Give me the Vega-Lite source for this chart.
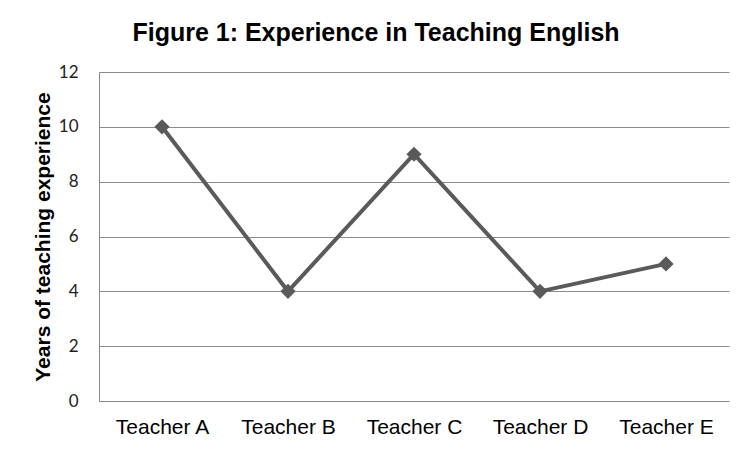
{
  "$schema": "https://vega.github.io/schema/vega-lite/v6.json",
  "width": 630,
  "height": 329,
  "autosize": {"type": "none"},
  "padding": {"left": 99, "top": 72, "right": 24, "bottom": 50},
  "background": "white",
  "title": {
    "text": "Figure 1: Experience in Teaching English",
    "font": "Liberation Sans",
    "fontSize": 25,
    "fontWeight": "bold",
    "color": "black",
    "anchor": "middle",
    "dx": -38,
    "offset": 17
  },
  "data": {
    "values": [
      {"teacher": "Teacher A", "years": 10},
      {"teacher": "Teacher B", "years": 4},
      {"teacher": "Teacher C", "years": 9},
      {"teacher": "Teacher D", "years": 4},
      {"teacher": "Teacher E", "years": 5}
    ]
  },
  "mark": {
    "type": "line",
    "color": "#5a5a5a",
    "strokeWidth": 4,
    "point": {"shape": "diamond", "size": 230, "filled": true, "color": "#5a5a5a", "opacity": 1}
  },
  "encoding": {
    "x": {
      "field": "teacher",
      "type": "nominal",
      "scale": {"type": "point", "padding": 0.5},
      "axis": {
        "title": null,
        "labelAngle": 0,
        "labelFont": "Liberation Sans",
        "labelFontSize": 21,
        "labelColor": "black",
        "labelPadding": 15,
        "ticks": false,
        "domainColor": "#888888",
        "domainWidth": 1
      }
    },
    "y": {
      "field": "years",
      "type": "quantitative",
      "scale": {"domain": [0, 12], "nice": false},
      "axis": {
        "values": [0, 2, 4, 6, 8, 10, 12],
        "title": "Years of teaching experience",
        "titleFont": "Liberation Sans",
        "titleFontSize": 21,
        "titleFontWeight": "bold",
        "titleColor": "black",
        "titlePadding": 5,
        "labelFont": "Lato",
        "labelFontSize": 17,
        "labelColor": "#222222",
        "labelPadding": 21,
        "ticks": false,
        "domainColor": "#888888",
        "gridColor": "#8c8c8c",
        "gridWidth": 1,
        "gridOpacity": 1
      }
    }
  },
  "config": {"view": {"stroke": null}}
}
